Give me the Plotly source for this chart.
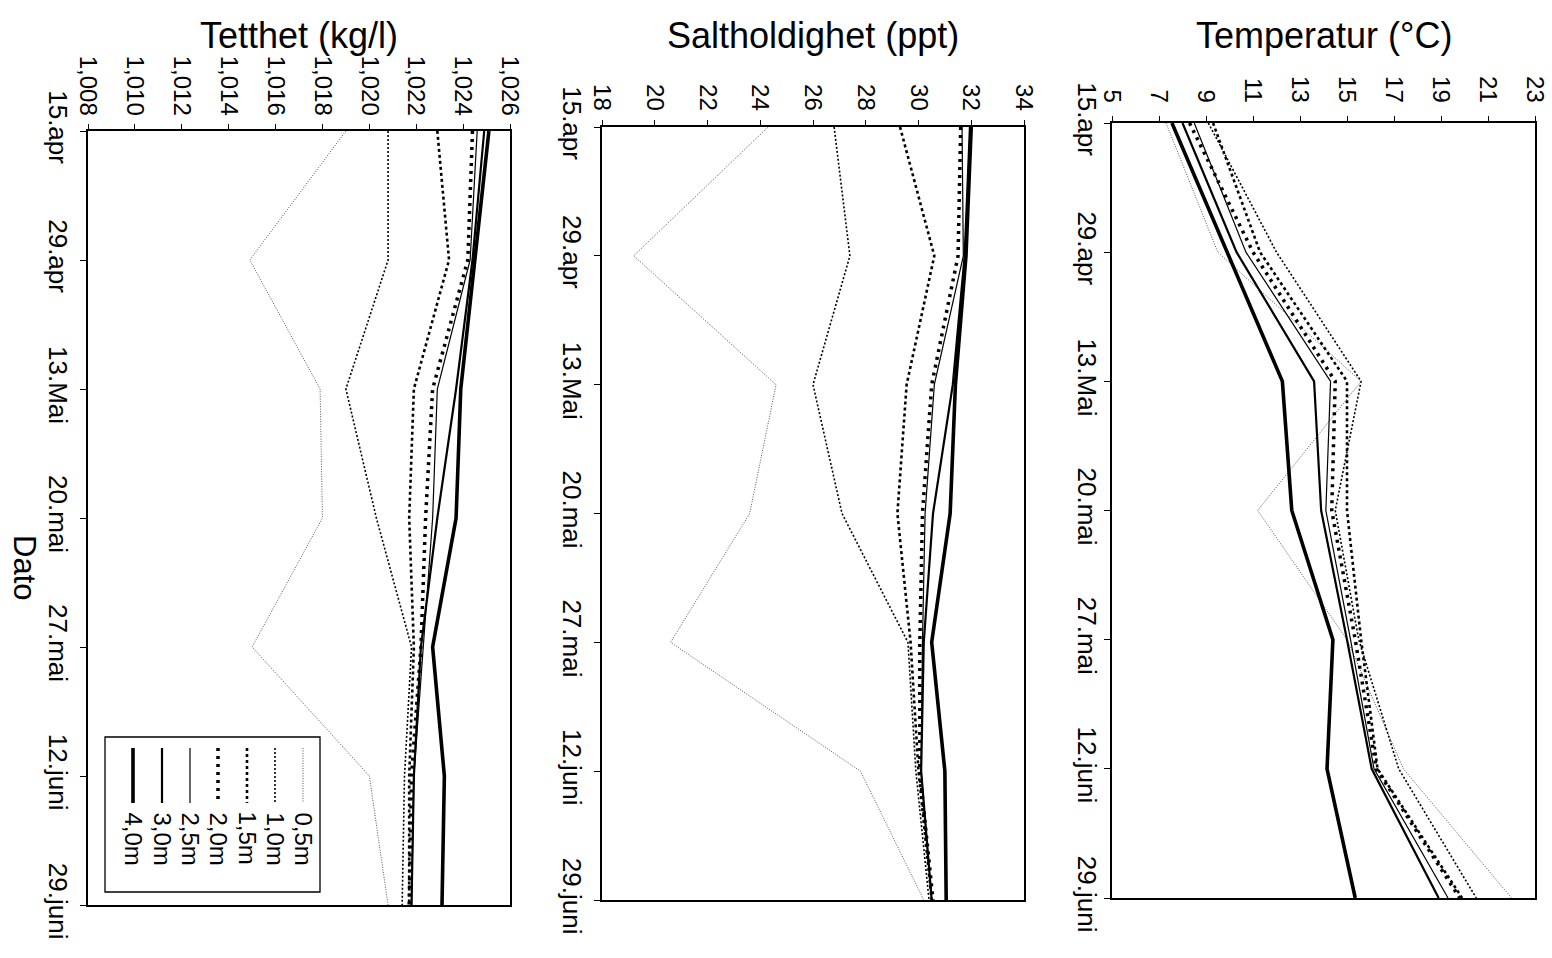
import plotly.graph_objects as go

# ---------------- data ----------------
dates = ["15.apr", "29.apr", "13.Mai", "20.mai", "27.mai", "12.juni", "29.juni"]
depths = ["0,5m", "1,0m", "1,5m", "2,0m", "2,5m", "3,0m", "4,0m"]

temp_05 = [7.3, 9.5, 15.6, 11.2, 15.0, 17.4, 22.0]
temp_10 = [9.1, 12.0, 15.6, 14.5, 15.5, 17.2, 20.5]
temp_15 = [9.3, 11.3, 15.0, 15.0, 15.6, 16.3, 19.9]
temp_20 = [8.3, 11.0, 14.5, 14.35, 15.35, 16.25, 19.8]
temp_25 = [8.5, 10.7, 14.3, 14.1, 15.15, 16.15, 19.3]
temp_30 = [8.0, 10.3, 13.6, 13.9, 15.0, 16.05, 18.9]
temp_40 = [7.55, 9.9, 12.25, 12.65, 14.4, 14.15, 15.35]

salt_05 = [24.3, 19.2, 24.6, 23.6, 20.6, 27.8, 30.2]
salt_10 = [26.8, 27.4, 26.0, 27.1, 29.6, 29.9, 30.4]
salt_15 = [29.3, 30.6, 29.55, 29.2, 29.7, 30.0, 30.5]
salt_20 = [31.6, 31.5, 30.5, 30.15, 30.05, 30.05, 30.55]
salt_25 = [31.65, 31.7, 30.6, 30.25, 30.15, 30.1, 30.5]
salt_30 = [31.95, 31.75, 31.3, 30.55, 30.2, 30.1, 30.5]
salt_40 = [32.0, 31.8, 31.4, 31.2, 30.5, 31.0, 31.05]

dens_05 = [1.0190, 1.0149, 1.0179, 1.0180, 1.0150, 1.0200, 1.0208]
dens_10 = [1.0208, 1.0208, 1.0190, 1.0203, 1.0218, 1.0215, 1.0214]
dens_15 = [1.0229, 1.0234, 1.0219, 1.0217, 1.0219, 1.0217, 1.0217]
dens_20 = [1.0244, 1.0242, 1.0227, 1.0224, 1.0222, 1.0218, 1.0217]
dens_25 = [1.0246, 1.0243, 1.0229, 1.0227, 1.0223, 1.0219, 1.0218]
dens_30 = [1.0249, 1.0244, 1.0237, 1.0229, 1.0222, 1.0219, 1.0218]
dens_40 = [1.0251, 1.0245, 1.0239, 1.0237, 1.0227, 1.0232, 1.0231]

temp_ticks = [5, 7, 9, 11, 13, 15, 17, 19, 21, 23]
salt_ticks = [18, 20, 22, 24, 26, 28, 30, 32, 34]
dens_ticks = [1.008, 1.010, 1.012, 1.014, 1.016, 1.018, 1.020, 1.022, 1.024, 1.026]
dens_ticktext = ["1,008", "1,010", "1,012", "1,014", "1,016", "1,018", "1,020", "1,022", "1,024", "1,026"]

titles = ["Tetthet (kg/l)", "Saltholdighet (ppt)", "Temperatur (°C)"]
xlabel = "Dato"

# ---------------- styles ----------------
W, H = 1552, 958
FONT = "Liberation Sans, Arial, sans-serif"
styles = {
    "0,5m": dict(color="#555555", width=1.0, dash="1px,1.5px"),
    "1,0m": dict(color="black", width=1.6, dash="2px,2px"),
    "1,5m": dict(color="black", width=2.6, dash="3px,3px"),
    "2,0m": dict(color="black", width=3.5, dash="3px,5px"),
    "2,5m": dict(color="black", width=1.2, dash="solid"),
    "3,0m": dict(color="black", width=2.2, dash="solid"),
    "4,0m": dict(color="black", width=3.6, dash="solid"),
}


def px(x):
    return x / W


def py(y):
    return 1 - y / H


panels = [
    ("x", "y", [dens_05, dens_10, dens_15, dens_20, dens_25, dens_30, dens_40]),
    ("x2", "y2", [salt_05, salt_10, salt_15, salt_20, salt_25, salt_30, salt_40]),
    ("x3", "y3", [temp_05, temp_10, temp_15, temp_20, temp_25, temp_30, temp_40]),
]

fig = go.Figure()
for xa, ya, series in panels:
    for name, vals in zip(depths, series):
        fig.add_trace(go.Scatter(x=vals, y=dates, mode="lines", name=name,
                                 xaxis=xa, yaxis=ya, line=styles[name],
                                 showlegend=False))

# panel frames (pixel geometry)
frames = [
    dict(x0=88, x1=510, y0=131, y1=905, xstand=0, ystand=0),
    dict(x0=602, x1=1024, y0=127, y1=900, xstand=1, ystand=0),
    dict(x0=1112, x1=1535, y0=123, y1=898, xstand=5, ystand=-5),
]
xranges = [[1.008, 1.026], [18, 34], [5, 23]]
xtickvals = [dens_ticks, salt_ticks, temp_ticks]
xticktexts = [dens_ticktext, [str(v) for v in salt_ticks], [str(v) for v in temp_ticks]]

common_x = dict(side="top", tickangle=90, ticks="outside", ticklen=5, tickwidth=1.2,
                tickcolor="black", showline=True, linecolor="black", linewidth=1.6,
                mirror=True, showgrid=False, zeroline=False, automargin=False,
                tickfont=dict(family=FONT, size=24, color="black"))
common_y = dict(type="category", categoryorder="array", categoryarray=dates,
                range=[len(dates) - 1, 0], tickangle=90, ticks="outside", ticklen=6,
                tickwidth=1.2, tickcolor="black", showline=True, linecolor="black",
                linewidth=1.6, mirror=True, showgrid=False, zeroline=False,
                automargin=False,
                tickfont=dict(family=FONT, size=26, color="black"))

layout = dict(width=W, height=H, margin=dict(l=0, r=0, t=0, b=0, autoexpand=False),
              paper_bgcolor="white", plot_bgcolor="white", showlegend=False)
for i, fr in enumerate(frames):
    sfx = "" if i == 0 else str(i + 1)
    layout["xaxis" + sfx] = dict(common_x, domain=[px(fr["x0"]), px(fr["x1"])],
                                 range=xranges[i], tickvals=xtickvals[i],
                                 ticktext=xticktexts[i], anchor="y" + sfx,
                                 ticklabelstandoff=fr["xstand"])
    layout["yaxis" + sfx] = dict(common_y, domain=[py(fr["y1"]), py(fr["y0"])],
                                 anchor="x" + sfx, ticklabelstandoff=fr["ystand"])
fig.update_layout(**layout)

annotations = []
for i, fr in enumerate(frames):
    annotations.append(dict(text=titles[i], x=px((fr["x0"] + fr["x1"]) / 2), y=py(35),
                            xref="paper", yref="paper", showarrow=False,
                            xanchor="center", yanchor="middle",
                            font=dict(family=FONT, size=36, color="black")))
annotations.append(dict(text=xlabel, x=px(25), y=py(568), xref="paper", yref="paper",
                        showarrow=False, textangle=90, xanchor="center", yanchor="middle",
                        font=dict(family=FONT, size=31, color="black")))

# rotated legend inside the density panel
shapes = [dict(type="rect", xref="paper", yref="paper", x0=px(105), x1=px(320),
               y0=py(892), y1=py(737), line=dict(color="black", width=1.3),
               fillcolor="white", layer="above")]
leg_x = [303, 275, 247, 218, 190, 162, 133]
for name, lx in zip(depths, leg_x):
    st = styles[name]
    shapes.append(dict(type="line", xref="paper", yref="paper", x0=px(lx), x1=px(lx),
                       y0=py(748), y1=py(803),
                       line=dict(color=st["color"], width=st["width"], dash=st["dash"]),
                       layer="above"))
    annotations.append(dict(text=name, x=px(lx), y=py(810), xref="paper", yref="paper",
                            showarrow=False, textangle=90, xanchor="center", yanchor="top",
                            font=dict(family=FONT, size=24, color="black")))

fig.update_layout(annotations=annotations, shapes=shapes)
fig.write_html("out.html")
